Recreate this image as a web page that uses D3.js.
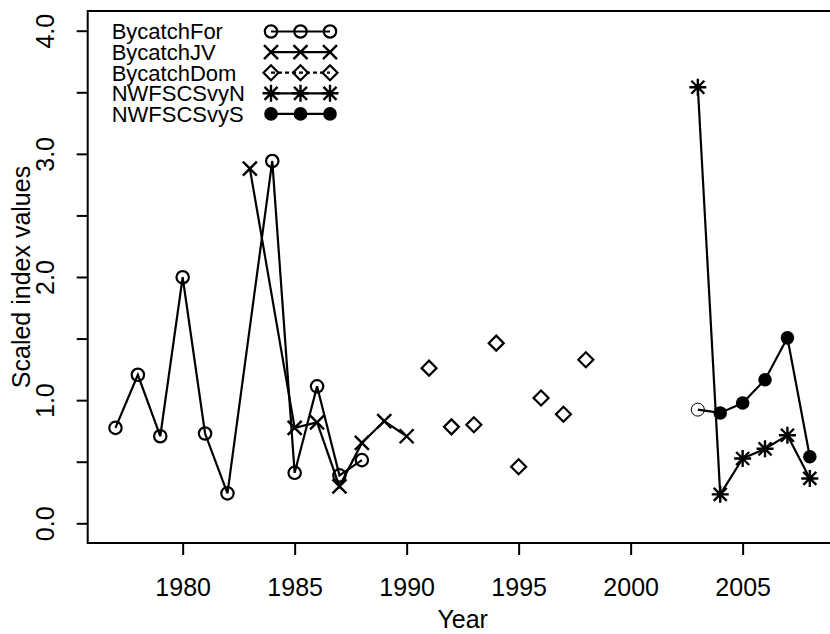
<!DOCTYPE html>
<html>
<head>
<meta charset="utf-8">
<script src="https://cdn.jsdelivr.net/npm/d3@7"></script>
<style>
  body { margin: 0; background: #fff; }
  svg { display: block; font-family: 'Liberation Sans', Arial, Helvetica, sans-serif; }
</style>
</head>
<body>
<div id="chart"></div>
<script>
// Index series
const forYears = [1977, 1978, 1979, 1980, 1981, 1982, 1984, 1985, 1986, 1987, 1988];
const forValues = [0.775, 1.206, 0.707, 1.998, 0.729, 0.243, 2.942, 0.41, 1.112, 0.389, 0.513];
const jvYears = [1983, 1985, 1986, 1987, 1988, 1989, 1990];
const jvValues = [2.88, 0.775, 0.82, 0.30, 0.653, 0.83, 0.707];
const domYears = [1991, 1992, 1993, 1994, 1995, 1996, 1997, 1998];
const domValues = [1.26, 0.783, 0.80, 1.463, 0.459, 1.018, 0.885, 1.328];
const svyNYears = [2003, 2004, 2005, 2006, 2007, 2008];
const svyNValues = [3.541, 0.235, 0.526, 0.605, 0.715, 0.364];
const svySYears = [2003, 2004, 2005, 2006, 2007, 2008];
const svySValues = [0.923, 0.896, 0.977, 1.166, 1.506, 0.54];

const legendNames = ['BycatchFor', 'BycatchJV', 'BycatchDom', 'NWFSCSvyN', 'NWFSCSvyS'];
const legendShapes = ['circle', 'cross', 'diamond', 'asterisk', 'dot'];
const xTicks = [1980, 1985, 1990, 1995, 2000, 2005];
const yTicks = [0, 0.5, 1, 1.5, 2, 2.5, 3, 3.5, 4];
const yLabelTicks = [0, 1, 2, 3, 4];

const width = 830;
const height = 634;
const margin = { l: 87.7, t: 11, r: 837.6, b: 543 };
const axisFont = 25;
const legendFont = 22;
const lw = 2.2;

const svg = d3.select('#chart').append('svg')
  .attr('width', width)
  .attr('height', height);
svg.append('rect')
  .attr('width', width)
  .attr('height', height)
  .attr('fill', '#fff');

// R style: data range padded by 4%
const x = d3.scaleLinear()
  .domain([1975.76, 2009.24])
  .range([margin.l, margin.r]);
const y = d3.scaleLinear()
  .domain([-0.16, 4.16])
  .range([margin.b, margin.t]);

// draw one plotting symbol at (cx, cy)
function symbol(g, shape, cx, cy) {
  if (shape === 'circle') {
    g.append('circle').attr('cx', cx).attr('cy', cy).attr('r', 6.2)
      .attr('fill', 'none').attr('stroke', '#000').attr('stroke-width', 2.2);
  } else if (shape === 'ring') {
    g.append('circle').attr('cx', cx).attr('cy', cy).attr('r', 6.5)
      .attr('fill', 'none').attr('stroke', '#000').attr('stroke-width', 1);
  } else if (shape === 'dot') {
    g.append('circle').attr('cx', cx).attr('cy', cy).attr('r', 6.8)
      .attr('fill', '#000');
  } else if (shape === 'cross') {
    g.append('path')
      .attr('d', `M${cx - 7},${cy - 7}L${cx + 7},${cy + 7}M${cx - 7},${cy + 7}L${cx + 7},${cy - 7}`)
      .attr('stroke', '#000').attr('stroke-width', 2.4).attr('fill', 'none');
  } else if (shape === 'diamond') {
    g.append('path')
      .attr('d', `M${cx},${cy - 7.5}L${cx + 7.5},${cy}L${cx},${cy + 7.5}L${cx - 7.5},${cy}Z`)
      .attr('stroke', '#000').attr('stroke-width', 2.2).attr('fill', 'none');
  } else if (shape === 'asterisk') {
    g.append('path')
      .attr('d', `M${cx - 6.5},${cy - 6.5}L${cx + 6.5},${cy + 6.5}M${cx - 6.5},${cy + 6.5}L${cx + 6.5},${cy - 6.5}` +
        `M${cx - 8.5},${cy}L${cx + 8.5},${cy}M${cx},${cy - 8.5}L${cx},${cy + 8.5}`)
      .attr('stroke', '#000').attr('stroke-width', 2.4).attr('fill', 'none');
  }
}

const line = d3.line()
  .x((d) => x(d[0]))
  .y((d) => y(d[1]));

const plot = svg.append('g').attr('class', 'series');

function series(years, values, shape, connect) {
  const pts = years.map((yr, i) => [yr, values[i]]);
  if (connect) {
    plot.append('path')
      .datum(pts)
      .attr('d', line)
      .attr('fill', 'none')
      .attr('stroke', '#000')
      .attr('stroke-width', lw);
  }
  pts.forEach((p, i) => {
    // first south survey year is drawn as a thin open circle
    const s = (shape === 'dot' && i === 0) ? 'ring' : shape;
    symbol(plot, s, x(p[0]), y(p[1]));
  });
}

series(forYears, forValues, 'circle', true);
series(jvYears, jvValues, 'cross', true);
series(domYears, domValues, 'diamond', false);
series(svyNYears, svyNValues, 'asterisk', true);
series(svySYears, svySValues, 'dot', true);

// box
svg.append('rect')
  .attr('x', margin.l)
  .attr('y', margin.t)
  .attr('width', margin.r - margin.l)
  .attr('height', margin.b - margin.t)
  .attr('fill', 'none')
  .attr('stroke', '#000')
  .attr('stroke-width', 2);

// x axis
const xAxis = svg.append('g')
  .attr('transform', `translate(0,${margin.b})`)
  .call(d3.axisBottom(x).tickValues(xTicks).tickFormat(d3.format('d')).tickSize(12));
xAxis.select('.domain').remove();
xAxis.selectAll('line').attr('stroke', '#000').attr('stroke-width', 2);
xAxis.selectAll('text')
  .attr('y', 53)
  .attr('dy', null)
  .attr('fill', '#000')
  .style('font-size', axisFont + 'px')
  .style('font-family', "'Liberation Sans', Arial, sans-serif");

// y axis, labels only on whole numbers
const yAxis = svg.append('g')
  .attr('transform', `translate(${margin.l},0)`)
  .call(d3.axisLeft(y).tickValues(yTicks).tickSize(11)
    .tickFormat((d) => (yLabelTicks.includes(d) ? d3.format('.1f')(d) : '')));
yAxis.select('.domain').remove();
yAxis.selectAll('line').attr('stroke', '#000').attr('stroke-width', 2);
yAxis.selectAll('text')
  .attr('transform', 'rotate(-90)')
  .attr('x', 0)
  .attr('y', -34)
  .attr('dy', null)
  .attr('text-anchor', 'middle')
  .attr('fill', '#000')
  .style('font-size', axisFont + 'px')
  .style('font-family', "'Liberation Sans', Arial, sans-serif");

// axis titles
svg.append('text')
  .attr('x', (margin.l + margin.r) / 2)
  .attr('y', 628)
  .attr('text-anchor', 'middle')
  .style('font-size', axisFont + 'px')
  .text('Year');
svg.append('text')
  .attr('transform', `translate(30,${(margin.t + margin.b) / 2}) rotate(-90)`)
  .attr('text-anchor', 'middle')
  .style('font-size', axisFont + 'px')
  .text('Scaled index values');

// legend
const legend = svg.append('g').attr('class', 'legend');
const legendMarks = [271, 300.5, 330];
legendNames.forEach((name, i) => {
  const cy = 31.5 + 20.6 * i;
  legend.append('text')
    .attr('x', 111.7)
    .attr('y', cy + legendFont * 0.36)
    .style('font-size', legendFont + 'px')
    .text(name);
  legend.append('line')
    .attr('x1', legendMarks[0]).attr('x2', legendMarks[2])
    .attr('y1', cy).attr('y2', cy)
    .attr('stroke', '#000')
    .attr('stroke-width', lw)
    .attr('stroke-dasharray', legendShapes[i] === 'diamond' ? '4,3' : null);
  legendMarks.forEach((mx) => symbol(legend, legendShapes[i], mx, cy));
});
</script>
</body>
</html>
